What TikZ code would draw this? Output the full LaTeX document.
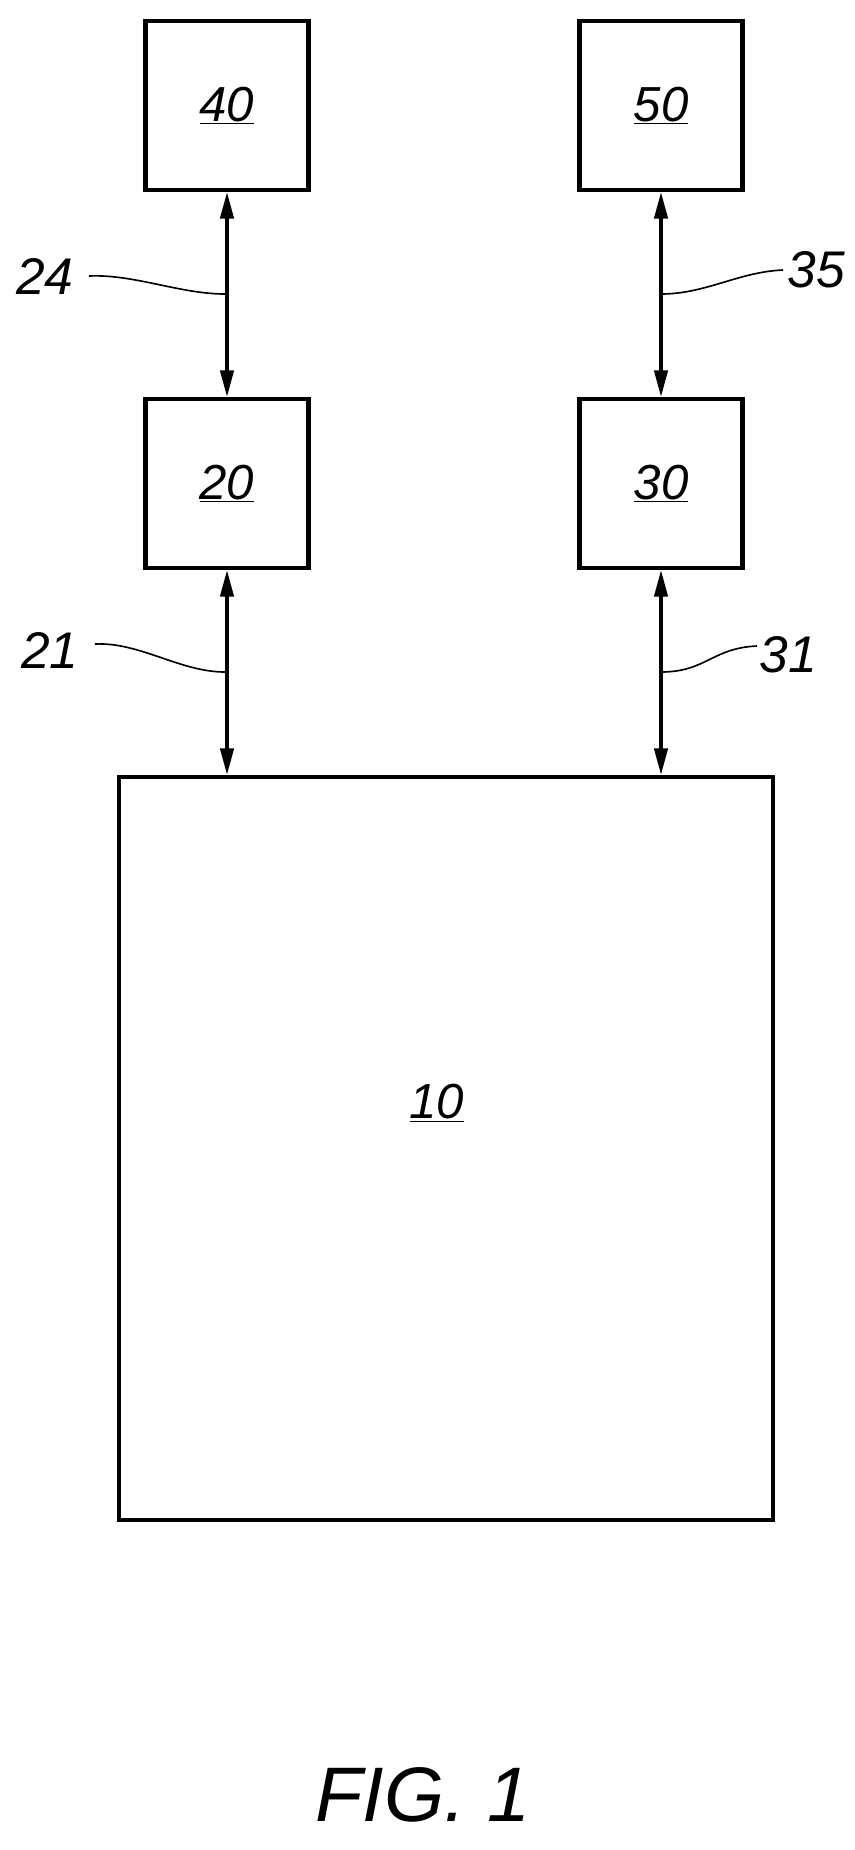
\documentclass[tikz,border=0pt]{standalone}
\usepackage{fontspec}
\setmainfont{Liberation Sans}
\usetikzlibrary{arrows.meta}
\tikzset{
    block/.style = {draw, line width = 3.5pt, minimum width = 4.89cm, minimum height = 5.07cm,
                    font = \fontsize{42}{42}\selectfont\itshape},
    link/.style  = {{Triangle[length = .8cm, width = .4cm]}-{Triangle[length = .8cm, width = .4cm]}, line width = 3pt},
    lead/.style  = {line width = 1.4pt},
    ref/.style   = {font = \fontsize{44}{44}\selectfont\itshape, inner sep = 0pt}
}
\newcommand{\refnum}[1]{\underline{#1}}
\begin{document}
\begin{tikzpicture}[x = .03cm, y = -.03cm]
    \useasboundingbox (0,0) rectangle (854,1850);

    % Draw the blocks:
    \node [block] (b40) at (227,105.5) {\refnum{40}};
    \node [block] (b50) at (661,105.5) {\refnum{50}};
    \node [block] (b20) at (227,483.5) {\refnum{20}};
    \node [block] (b30) at (661,483.5) {\refnum{30}};
    \node [block, minimum width = 19.62cm, minimum height = 22.29cm] (b10) at (446,1148.5) {};
    \node [font = \fontsize{42}{42}\selectfont\itshape] (t10) at (437,1103) {\refnum{10}};

    % Draw the links:
    \draw [link] (b40) -- (b20);
    \draw [link] (b50) -- (b30);
    \draw [link] (b20) -- (b20 |- b10.north);
    \draw [link] (b30) -- (b30 |- b10.north);

    % Draw the reference labels:
    \node [ref] (l24) at (45,276) {24};
    \node [ref] (l35) at (816,270) {35};
    \node [ref] (l21) at (50,650) {21};
    \node [ref] (l31) at (788,655) {31};
    \coordinate (c24) at (225,294);
    \coordinate (c35) at (661,294);
    \coordinate (c21) at (225,672);
    \coordinate (c31) at (661,672);
    \draw [lead] (89,276) .. controls +(45,-2) and +(-45,0) .. (c24);
    \draw [lead] (783,270) .. controls +(-45,2) and +(45,0) .. (c35);
    \draw [lead] (95,644) .. controls +(45,-2) and +(-45,0) .. (c21);
    \draw [lead] (757,646) .. controls +(-45,2) and +(45,0) .. (c31);

    \node [font = \fontsize{66}{66}\selectfont\itshape] (fig) at (423,1795) {FIG. 1};
\end{tikzpicture}
\end{document}
